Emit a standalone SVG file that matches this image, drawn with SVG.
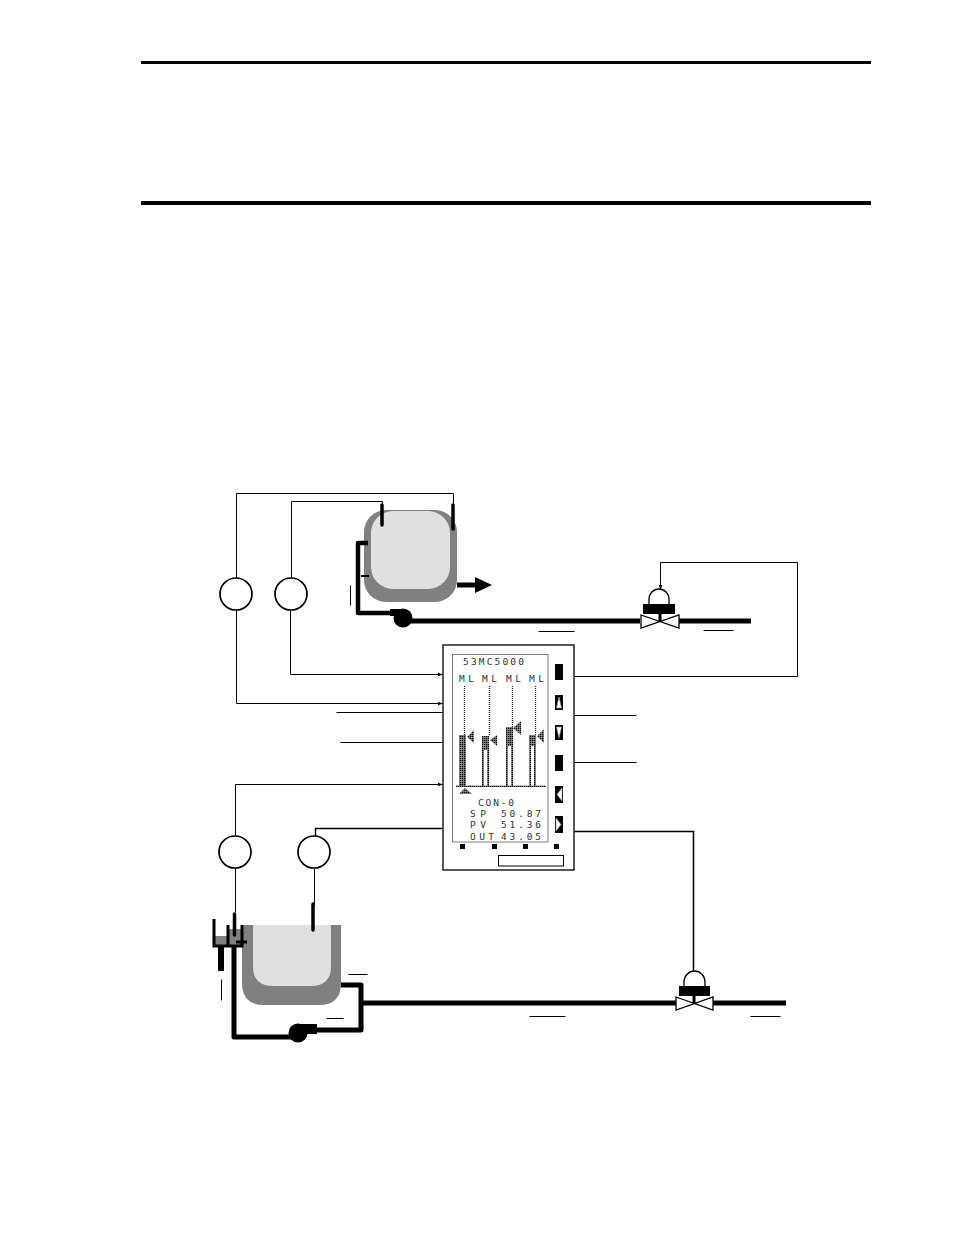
<svg xmlns="http://www.w3.org/2000/svg" width="954" height="1235" viewBox="0 0 954 1235">
<style>
.sig{fill:none;stroke:#000;stroke-width:1}
.pipe{fill:none;stroke:#000;stroke-width:5}
.probe{fill:none;stroke:#000;stroke-width:3.5;stroke-linecap:round}
.inst{fill:#fff;stroke:#000;stroke-width:1.7}
.lab{fill:none;stroke:#000;stroke-width:1}
.lcd{font-family:"DejaVu Sans Mono","Liberation Mono",monospace;font-size:9.5px;fill:#333}
.dot{fill:url(#dots)}
.scale{stroke:#222;stroke-width:1.3;stroke-dasharray:1 1;fill:none}
.key{fill:#fff;stroke:#999;stroke-width:.6}
</style>
<defs>
<pattern id="dots" width="2" height="2" patternUnits="userSpaceOnUse"><rect width="2" height="2" fill="#999"/><rect width="1.3" height="1.3" fill="#000"/></pattern>
<marker id="ah" markerWidth="5" markerHeight="5" refX="4.500" refY="2.500" orient="auto" markerUnits="userSpaceOnUse"><path d="M0 .7L5 2.500L0 4.300Z" fill="#000"/></marker>
</defs>
<g id="rules">
<rect x="141" y="61" width="730" height="3"/>
<rect x="141" y="201" width="730" height="4"/>
</g>
<g id="connectors" transform="translate(.5 .5)">
<path class="sig" d="M453 505V493H236V578"/>
<path class="sig" d="M382 505V501H291V578"/>
<path class="sig" marker-end="url(#ah)" d="M236 610V703H442"/>
<path class="sig" marker-end="url(#ah)" d="M290 610V674H442"/>
<path class="sig" d="M336 712H442"/>
<path class="sig" d="M340 742H442"/>
<path class="sig" marker-end="url(#ah)" d="M235 836V784H442"/>
<path class="sig" style="stroke-width:1.5" d="M315 836V828H442"/>
<path class="sig" d="M235 868V912"/>
<path class="sig" d="M314 868V905"/>
<path class="sig" d="M574 715H636"/>
<path class="sig" d="M574 762H636"/>
<path class="sig" style="stroke-width:1.5" d="M574 831H693V970"/>
<path class="sig" marker-end="url(#ah)" d="M574 676H797V562H660V589"/>
<path class="lab" d="M350 585V605M538 631H574M703 630H733M529 1016H565M750 1016H780M348 974H367M326 1018H343M221 979V1000"/>
</g>
<g id="pipes">
<path class="pipe" d="M403 621H640"/>
<path class="pipe" d="M679 621H751"/>
<path class="pipe" d="M361 1003H676"/>
<path class="pipe" d="M713 1003H786"/>
</g>
<g id="tank-top">
<rect x="364" y="510" width="93" height="92" rx="22" fill="#808080"/>
<rect x="371" y="511" width="79" height="78" rx="22" fill="#e0e0e0"/>
<path class="probe" d="M382 505V525"/>
<path class="probe" d="M453 505V529"/>
<path d="M368 543H358V613H396" fill="none" stroke="#000" stroke-width="4.500" stroke-linejoin="round"/>
<path d="M361 576H369" stroke="#000" stroke-width="2"/>
<path d="M457 585H477" stroke="#000" stroke-width="5"/>
<path d="M475 577L492 585L475 593Z"/>
</g>
<g id="pump-top">
<circle cx="403" cy="618" r="9.500"/>
<rect x="390" y="609" width="12" height="7"/>
</g>
<g id="valve-top">
<path d="M641 615L679 628V615L641 628Z" fill="#fff" stroke="#000" stroke-width="1.300"/>
<rect x="643" y="604" width="32" height="10"/>
<path d="M658.500 612H661.500V621H658.500Z"/>
<path d="M649 604V599A10 10 0 0 1 669 599V604" fill="#fff" stroke="#000" stroke-width="1.300"/>
</g>
<g id="ti-1"><circle class="inst" cx="236" cy="594" r="16"/></g>
<g id="ti-2"><circle class="inst" cx="291" cy="594" r="16"/></g>
<g id="ti-3"><circle class="inst" cx="235" cy="852" r="16"/></g>
<g id="ti-4"><circle class="inst" cx="314" cy="852" r="16"/></g>
<g id="controller">
<rect x="443" y="645" width="131" height="225" fill="#fff" stroke="#000" stroke-width="1.300"/>
<rect x="452.500" y="654.500" width="95.500" height="187.500" fill="#fff" stroke="#808080" stroke-width="1"/>
<text class="lcd" x="463" y="665" textLength="61" lengthAdjust="spacing">53MC5000</text>
<text class="lcd" x="459" y="682" textLength="15" lengthAdjust="spacing">M L</text>
<text class="lcd" x="482" y="682" textLength="15" lengthAdjust="spacing">M L</text>
<text class="lcd" x="506" y="682" textLength="15" lengthAdjust="spacing">M L</text>
<text class="lcd" x="529" y="682" textLength="15" lengthAdjust="spacing">M L</text>
<path class="scale" d="M464.500 686V735M489.500 686V736M512.500 686V727M535.500 686V735"/>
<rect class="dot" x="459" y="735" width="7" height="51"/>
<rect class="dot" x="482" y="736" width="7" height="50"/>
<rect x="484" y="750" width="3" height="36" fill="#fff"/>
<rect class="dot" x="506" y="727" width="7" height="59"/>
<rect x="508" y="746" width="3" height="40" fill="#fff"/>
<rect class="dot" x="529" y="735" width="7" height="51"/>
<rect x="531" y="746" width="3" height="40" fill="#fff"/>
<path class="dot" d="M474 730V743L467 737Z"/>
<path class="dot" d="M497 735V746L490 740Z"/>
<path class="dot" d="M521 721V735L513 728Z"/>
<path class="dot" d="M544 729V743L537 736Z"/>
<rect class="dot" x="456" y="785.500" width="90" height="1.500"/>
<path class="dot" d="M459 794L465 788L472 794Z"/>
<text class="lcd" x="478" y="806" textLength="36" lengthAdjust="spacing">CON-0</text>
<text class="lcd" x="470" y="817" textLength="16" lengthAdjust="spacing">SP</text>
<text class="lcd" x="501" y="817" textLength="40" lengthAdjust="spacing">50.87</text>
<text class="lcd" x="470" y="828" textLength="16" lengthAdjust="spacing">PV</text>
<text class="lcd" x="501" y="828" textLength="40" lengthAdjust="spacing">51.36</text>
<text class="lcd" x="470" y="839.500" textLength="24" lengthAdjust="spacing">OUT</text>
<text class="lcd" x="501" y="839.500" textLength="40" lengthAdjust="spacing">43.05</text>
<rect x="555" y="664" width="8" height="16"/>
<rect x="555" y="695" width="8" height="15"/>
<path class="key" d="M559 697L561.500 708H556.500Z"/>
<rect x="555" y="725" width="8" height="15"/>
<path class="key" d="M559 738L561.500 727H556.500Z"/>
<rect x="555" y="755" width="8" height="16"/>
<rect x="555" y="786" width="8" height="17"/>
<path class="key" d="M557 794.500L562 788V801Z"/>
<rect x="555" y="816" width="8" height="17"/>
<path class="key" d="M561 824.500L556 818V831Z"/>
<rect x="460" y="844" width="5" height="5"/>
<rect x="492" y="844" width="5" height="5"/>
<rect x="523" y="844" width="5" height="5"/>
<rect x="554" y="844" width="5" height="5"/>
<rect x="498.500" y="855.500" width="65" height="10.500" fill="#fff" stroke="#000" stroke-width="1"/>
</g>
<g id="tank-bottom">
<path d="M242 925H341V983Q341 1005 319 1005H264Q242 1005 242 983Z" fill="#808080"/>
<path d="M253 925H331V966Q331 986 311 986H273Q253 986 253 966Z" fill="#e0e0e0"/>
<path class="probe" d="M313 904V930"/>
</g>
<g id="level-bottom">
<rect x="229" y="929" width="13" height="17" fill="#808080"/>
<rect x="215" y="936" width="13" height="10" fill="#808080"/>
<path d="M214 919V946H228V925M228 946H242V925" fill="none" stroke="#000" stroke-width="3"/>
<rect x="218" y="947" width="6" height="24"/>
<path class="probe" d="M234.500 914V935"/>
<path d="M236 942H247" stroke="#000" stroke-width="3"/>
<path d="M234 947V1037H292" fill="none" stroke="#000" stroke-width="5" stroke-linejoin="round"/>
<path d="M341 985H361V1030H316" fill="none" stroke="#000" stroke-width="5" stroke-linejoin="round"/>
</g>
<g id="pump-bottom">
<circle cx="298" cy="1033" r="9.500"/>
<rect x="298" y="1024" width="19" height="10"/>
</g>
<g id="valve-bottom">
<path d="M676 997L713 1010V997L676 1010Z" fill="#fff" stroke="#000" stroke-width="1.300"/>
<rect x="679" y="986" width="31" height="10"/>
<path d="M692.500 994H695.500V1003H692.500Z"/>
<path d="M684 986V982A10.500 11 0 0 1 705 982V986" fill="#fff" stroke="#000" stroke-width="1.300"/>
</g>
</svg>
